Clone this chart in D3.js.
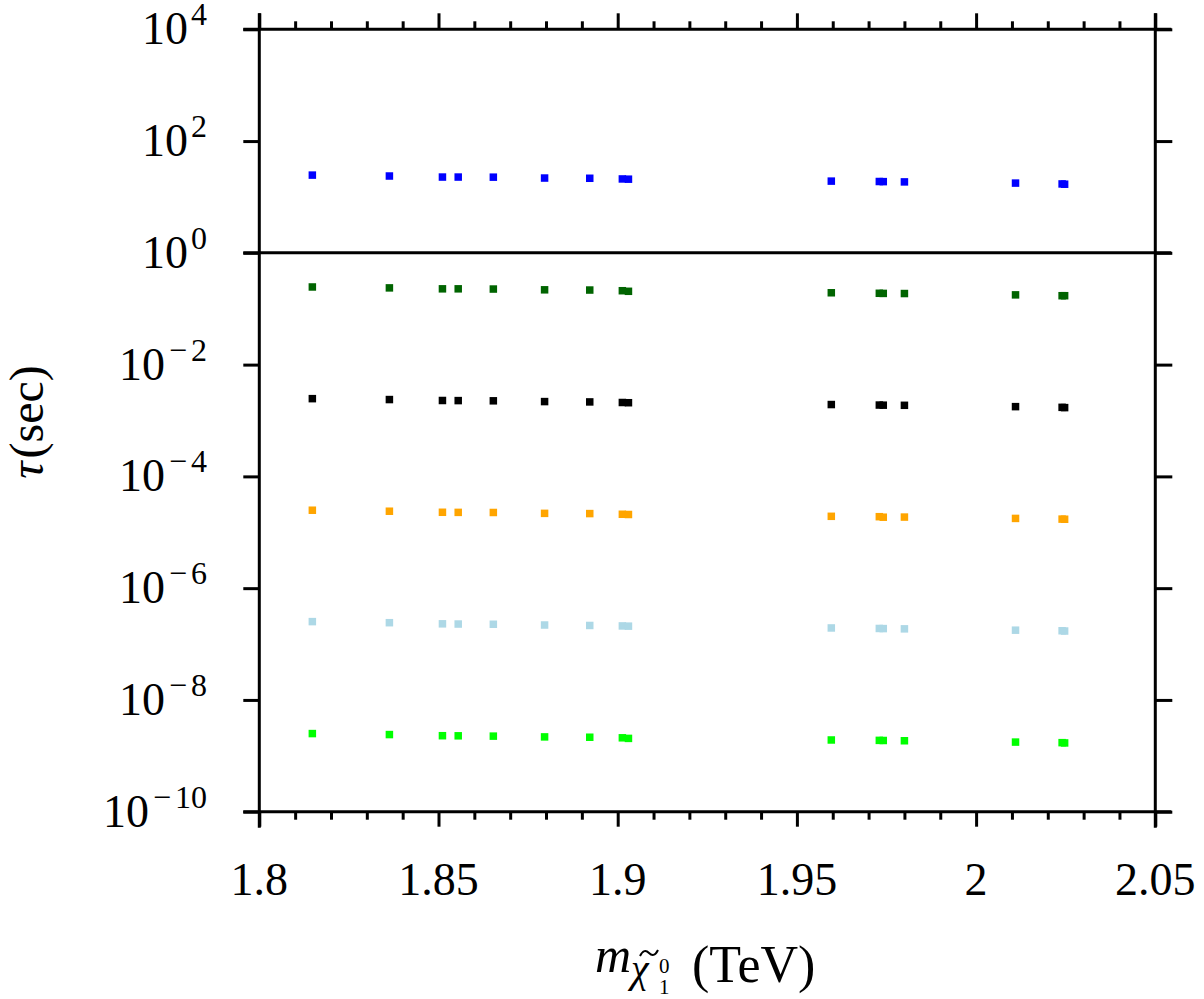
<!DOCTYPE html>
<html>
<head>
<meta charset="utf-8">
<script src="https://cdn.jsdelivr.net/npm/d3@7"></script>
<style>
  html, body { margin: 0; padding: 0; background: #fff; }
  svg { display: block; }
</style>
</head>
<body>
<div id="chart"></div>
<script>
// neutralino mass (TeV) and lifetimes (sec)
const mass = [1.8148, 1.8363, 1.8511, 1.8555, 1.8653, 1.8796, 1.8922, 1.9013, 1.9030,
              1.9596, 1.9730, 1.9741, 1.9800, 2.0110, 2.0240, 2.0247];
const tauBlue      = [24.6, 23.7, 22.7, 22.7, 22.6, 21.8, 21.6, 21.0, 20.8, 19.2, 18.9, 18.8, 18.6, 17.7, 17.1, 16.9];
const tauDarkGreen = [0.245, 0.236, 0.227, 0.227, 0.225, 0.218, 0.216, 0.210, 0.205, 0.193, 0.189, 0.188, 0.187, 0.177, 0.171, 0.171];
const tauBlack     = [2.46e-3, 2.37e-3, 2.28e-3, 2.27e-3, 2.25e-3, 2.18e-3, 2.15e-3, 2.10e-3, 2.08e-3, 1.93e-3, 1.89e-3, 1.88e-3, 1.87e-3, 1.77e-3, 1.72e-3, 1.70e-3];
const tauOrange    = [2.48e-5, 2.38e-5, 2.28e-5, 2.27e-5, 2.26e-5, 2.18e-5, 2.16e-5, 2.10e-5, 2.08e-5, 1.93e-5, 1.90e-5, 1.86e-5, 1.87e-5, 1.77e-5, 1.72e-5, 1.71e-5];
const tauLightBlue = [2.52e-7, 2.41e-7, 2.30e-7, 2.28e-7, 2.26e-7, 2.19e-7, 2.15e-7, 2.11e-7, 2.09e-7, 1.94e-7, 1.90e-7, 1.89e-7, 1.87e-7, 1.77e-7, 1.73e-7, 1.71e-7];
const tauLime      = [2.50e-9, 2.40e-9, 2.29e-9, 2.28e-9, 2.25e-9, 2.18e-9, 2.15e-9, 2.10e-9, 2.05e-9, 1.92e-9, 1.89e-9, 1.88e-9, 1.86e-9, 1.76e-9, 1.72e-9, 1.70e-9];

const seriesNames  = ["blue", "darkgreen", "black", "orange", "lightblue", "lime"];
const seriesValues = [tauBlue, tauDarkGreen, tauBlack, tauOrange, tauLightBlue, tauLime];
const seriesColors = ["#0000ff", "#006400", "#000000", "#ffa500", "#add8e6", "#00ff00"];

const xMajor = [1.8, 1.85, 1.9, 1.95, 2.0, 2.05];
const xMajorLabels = ["1.8", "1.85", "1.9", "1.95", "2", "2.05"];
const xMinor = [1.81, 1.82, 1.83, 1.84, 1.86, 1.87, 1.88, 1.89, 1.91, 1.92, 1.93, 1.94,
                1.96, 1.97, 1.98, 1.99, 2.01, 2.02, 2.03, 2.04];
const yExponents = [-10, -8, -6, -4, -2, 0, 2, 4];

const pageWidth = 1204, pageHeight = 999;
const plotLeft = 259.3, plotRight = 1155.3, plotTop = 29.3, plotBottom = 811.7;
const overhang = 16;
const serif = "'Liberation Serif', 'DejaVu Serif', serif";

const svg = d3.select("#chart").append("svg")
    .attr("width", pageWidth)
    .attr("height", pageHeight);

const x = d3.scaleLinear().domain([1.8, 2.05]).range([plotLeft, plotRight]);
const y = d3.scaleLog().domain([1e-10, 1e4]).range([plotBottom, plotTop]);

// ticks, all pointing outward
function ticks(axis, pos, size, values) {
    svg.append("g")
        .attr("transform", pos)
        .call(axis.tickValues(values).tickSize(size).tickSizeOuter(0).tickFormat(""))
        .call(g => g.select(".domain").remove())
        .call(g => g.selectAll(".tick line").attr("stroke", "#000").attr("stroke-width", 3));
}
const yTicks = yExponents.map(e => Math.pow(10, e));
ticks(d3.axisBottom(x), "translate(0," + plotBottom + ")", 15, xMajor);
ticks(d3.axisBottom(x), "translate(0," + plotBottom + ")", 8, xMinor);
ticks(d3.axisTop(x), "translate(0," + plotTop + ")", 16, xMajor);
ticks(d3.axisTop(x), "translate(0," + plotTop + ")", 8, xMinor);
ticks(d3.axisLeft(y), "translate(" + plotLeft + ",0)", 16, yTicks);
ticks(d3.axisRight(y), "translate(" + plotRight + ",0)", 17, yTicks);

// frame lines, running a little past the corners
const frame = svg.append("g").attr("stroke", "#000").attr("stroke-width", 3);
[plotBottom, plotTop, y(1)].forEach(v => {
    frame.append("line")
        .attr("x1", plotLeft - overhang).attr("x2", plotRight + overhang)
        .attr("y1", v).attr("y2", v);
});
[plotLeft, plotRight].forEach(v => {
    frame.append("line")
        .attr("x1", v).attr("x2", v)
        .attr("y1", plotTop - overhang).attr("y2", plotBottom + overhang);
});

// points
seriesValues.forEach((vals, i) => {
    const s = 7.5;
    svg.append("g").attr("class", "series-" + seriesNames[i]).selectAll("rect")
        .data(mass.map((m, j) => ({ m: m, t: vals[j] })))
        .join("rect")
        .attr("x", d => x(d.m) - s / 2)
        .attr("y", d => y(d.t) - s / 2)
        .attr("width", s)
        .attr("height", s)
        .attr("fill", seriesColors[i]);
});

// x tick labels
svg.append("g").selectAll("text")
    .data(xMajor)
    .join("text")
    .attr("x", d => x(d))
    .attr("y", plotBottom + 83)
    .attr("text-anchor", "middle")
    .attr("font-family", serif)
    .attr("font-size", 46)
    .text((d, i) => xMajorLabels[i]);

// y tick labels 10^n
const yl = svg.append("g").selectAll("text")
    .data(yExponents)
    .join("text")
    .attr("x", 207)
    .attr("y", d => y(Math.pow(10, d)) + 15)
    .attr("text-anchor", "end")
    .attr("font-family", serif)
    .attr("font-size", 46);
yl.append("tspan").text("10");
yl.filter(d => d < 0).append("tspan")
    .attr("dx", 4)
    .attr("dy", -19)
    .attr("font-size", 32)
    .text("\u2212");
yl.append("tspan")
    .attr("dx", d => d < 0 ? 4 : 3)
    .attr("dy", d => d < 0 ? 0 : -19)
    .attr("font-size", 32)
    .text(d => String(Math.abs(d)));

// axis titles
const ytitle = svg.append("text")
    .attr("transform", "translate(43,422) rotate(-90)")
    .attr("text-anchor", "middle")
    .attr("font-family", serif)
    .attr("font-size", 48);
ytitle.append("tspan").attr("font-style", "italic").text("\u03c4");
ytitle.append("tspan").attr("dx", 3).text("(sec)");

const xt = svg.append("g").attr("font-family", serif);
xt.append("text").attr("x", 595).attr("y", 972)
    .attr("font-size", 50).attr("font-style", "italic").text("m");
xt.append("text").attr("x", 631).attr("y", 982)
    .attr("font-size", 40).attr("font-style", "italic").text("\u03c7");
// tilde accent over chi
xt.append("path")
    .attr("d", "M640,956 C643,950 646,950 649,953 C652,956 655,956 658,950")
    .attr("fill", "none")
    .attr("stroke", "#000")
    .attr("stroke-width", 2);
xt.append("text").attr("x", 659).attr("y", 973)
    .attr("font-size", 21).text("0");
xt.append("text").attr("x", 659).attr("y", 994)
    .attr("font-size", 21).text("1");
xt.append("text").attr("x", 692).attr("y", 982)
    .attr("font-size", 52).text("(TeV)");
</script>
</body>
</html>
